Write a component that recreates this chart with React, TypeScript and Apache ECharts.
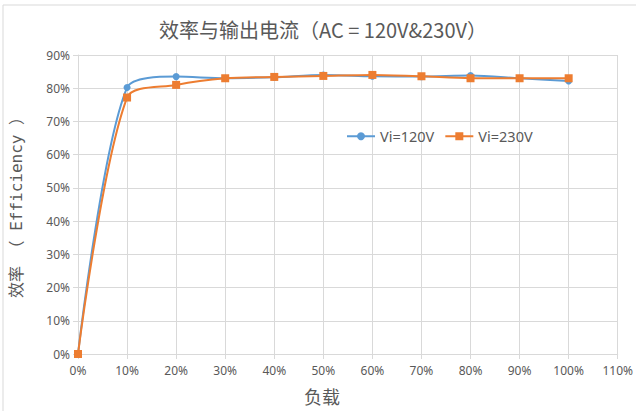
import React, { useEffect, useRef } from "react";
import * as echarts from "echarts";

const loads = [0, 10, 20, 30, 40, 50, 60, 70, 80, 90, 100];
const eff120 = [0, 80.2, 83.5, 83.0, 83.3, 84.0, 83.6, 83.5, 83.8, 83.0, 82.2];
const eff230 = [0, 77.2, 81.0, 83.0, 83.4, 83.7, 84.0, 83.6, 83.0, 83.0, 83.0];
const seriesNames = ["Vi=120V", "Vi=230V"];
const titleText = "效率与输出电流（AC = 120V&230V）";
const xName = "负载";
const yName = "效率 （ Efficiency ）";

export default function App() {
  const ref = useRef<HTMLDivElement>(null);
  useEffect(() => {
    if (!ref.current) return;
    const chart = echarts.init(ref.current, null, { renderer: "svg" });
    const textColor = "#595959";
    const gridColor = "#d9d9d9";
    const font = "'Noto Sans', 'Noto Sans CJK SC', sans-serif";
    chart.setOption({
      animation: false,
      backgroundColor: "#ffffff",
      title: {
        text: titleText,
        left: 318,
        textAlign: "center",
        top: 14,
        textStyle: { color: textColor, fontSize: 20, fontWeight: "normal", fontFamily: "'Noto Sans CJK SC', sans-serif" },
      },
      graphic: [
        {
          type: "rect",
          shape: { x: 3, y: 5, width: 700, height: 500 },
          style: { fill: "none", stroke: "#d9d9d9", lineWidth: 1 },
          silent: true,
        },
        {
          type: "text",
          x: 322,
          y: 396,
          style: {
            text: xName,
            fill: textColor,
            fontSize: 18,
            fontFamily: "'Noto Sans CJK SC', sans-serif",
            align: "center",
            verticalAlign: "middle",
          },
        },
      ],
      legend: {
        left: 341,
        top: 124,
        itemWidth: 28,
        itemHeight: 10,
        itemGap: 10,
        textStyle: { color: textColor, fontSize: 14.5, fontFamily: font },
        data: seriesNames,
      },
      grid: { left: 73, right: 14, top: 55, bottom: 57, containLabel: false },
      xAxis: {
        type: "value",
        min: 0,
        max: 110,
        interval: 10,
        axisLine: { show: true, lineStyle: { color: gridColor } },
        axisTick: { show: true, length: 5, lineStyle: { color: gridColor } },
        axisLabel: { formatter: "{value}%", color: textColor, fontSize: 12, fontFamily: font, margin: 10 },
        splitLine: { show: true, lineStyle: { color: gridColor } },
      },
      yAxis: {
        type: "value",
        min: 0,
        max: 90,
        interval: 10,
        name: yName,
        nameLocation: "middle",
        nameGap: 54,
        nameRotate: 90,
        nameTextStyle: { color: textColor, fontSize: 16, fontFamily: "'DejaVu Sans Mono', 'Noto Sans CJK SC', monospace", padding: [0, 0, 0, 2] },
        axisLine: { show: true, lineStyle: { color: gridColor } },
        axisTick: { show: true, length: 5, lineStyle: { color: gridColor } },
        axisLabel: { formatter: "{value}%", color: textColor, fontSize: 12, fontFamily: font, margin: 8 },
        splitLine: { show: true, lineStyle: { color: gridColor } },
      },
      series: [
        {
          name: seriesNames[0],
          type: "line",
          smooth: 0.3,
          data: loads.map((x, i) => [x, eff120[i]]),
          symbol: "circle",
          symbolSize: 7,
          itemStyle: { color: "#5B9BD5" },
          lineStyle: { color: "#5B9BD5", width: 2 },
        },
        {
          name: seriesNames[1],
          type: "line",
          smooth: 0.3,
          data: loads.map((x, i) => [x, eff230[i]]),
          symbol: "rect",
          symbolSize: 8,
          itemStyle: { color: "#ED7D31" },
          lineStyle: { color: "#ED7D31", width: 2 },
        },
      ],
    });
    return () => chart.dispose();
  }, []);
  return <div ref={ref} style={{ position: "fixed", left: 0, top: 0, width: 636, height: 411 }} />;
}
